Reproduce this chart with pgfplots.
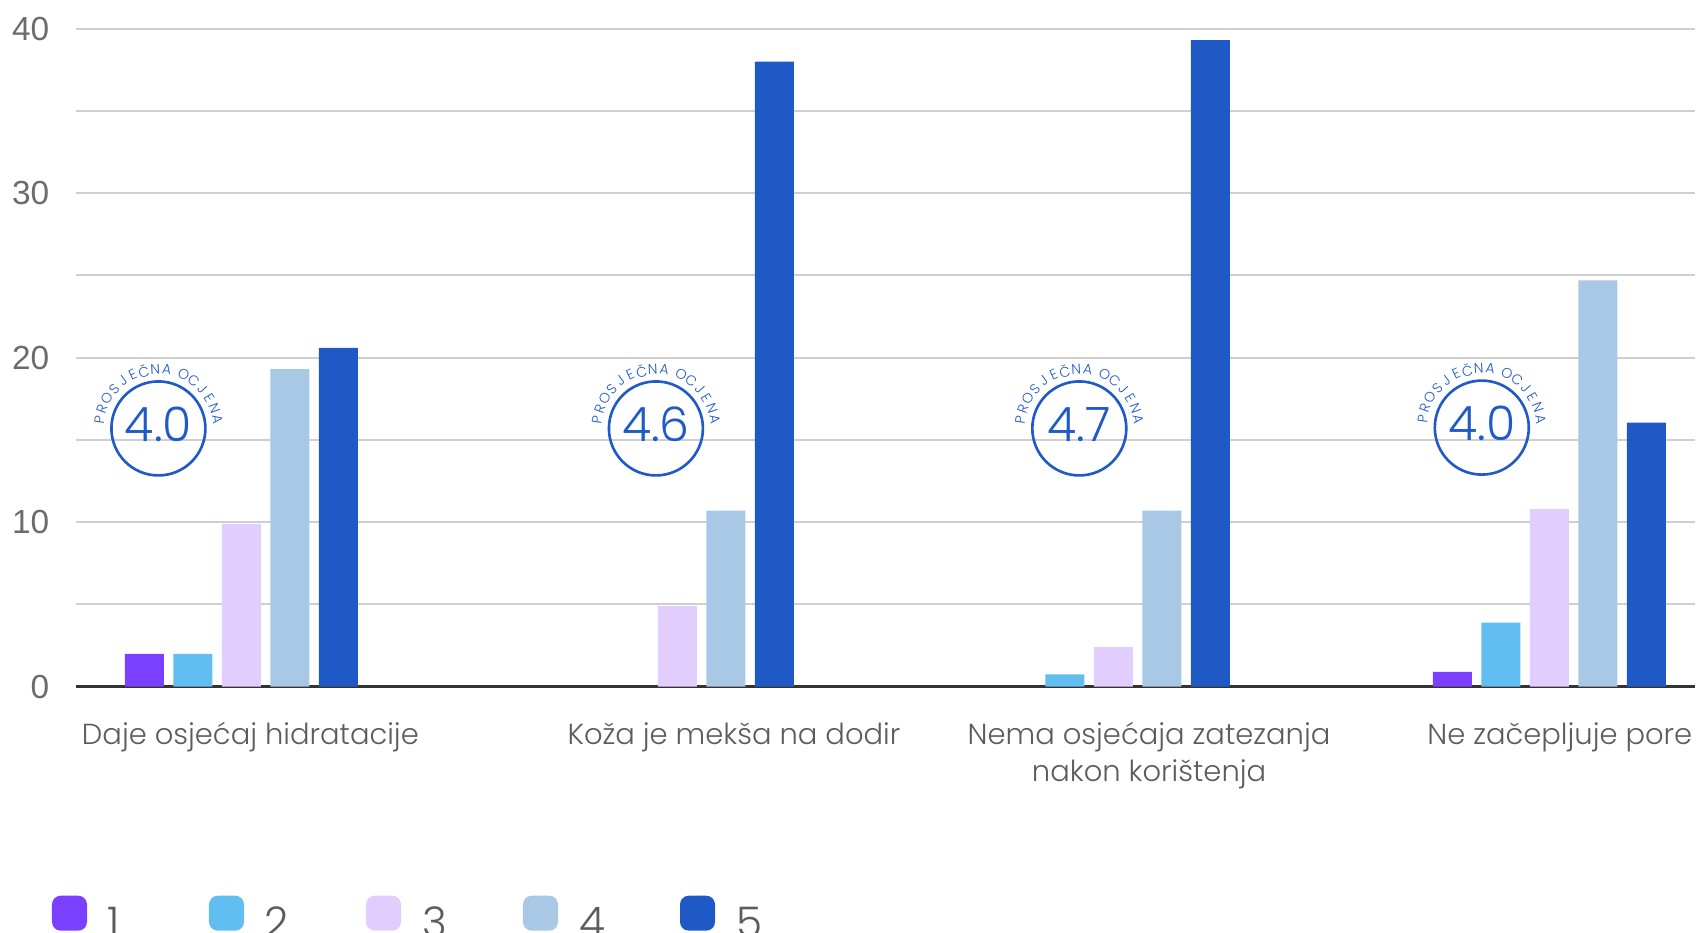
\documentclass[border=0pt]{standalone}
\usepackage{pgfplots}
\pgfplotsset{compat=1.18}
\usepackage{fontspec}
\setmainfont{Poppins Light}
\newfontfamily\tickfont{Liberation Sans}
\definecolor{c1}{HTML}{7B3FFF}
\definecolor{c2}{HTML}{62BEF0}
\definecolor{c3}{HTML}{E1CEFE}
\definecolor{c4}{HTML}{A8C8E6}
\definecolor{c5}{HTML}{1E59C6}
\definecolor{badge}{HTML}{1F5AC8}
\definecolor{lbl}{HTML}{5C5C5C}
\definecolor{gridc}{HTML}{CFCFCF}
\begin{document}
\begin{tikzpicture}
\begin{axis}[
  scale only axis, width=16.19cm, height=6.58cm,
  xmin=-0.379, xmax=3.334, ymin=0, ymax=40,
  ybar=0.095cm, bar width=0.39cm,
  axis line style={draw=none},
  major tick length=0pt,
  ytick={5,10,...,40}, yticklabels={,10,,20,,30,,40},
  extra y ticks={0}, extra y tick labels={0},
  extra y tick style={grid style={draw=black!80, line width=0.8pt}},
  ymajorgrids, grid style={draw=gridc, line width=0.6pt},
  yticklabel style={font=\tickfont\fontsize{9.5}{11}\selectfont, text=lbl!90, inner sep=0pt, xshift=-0.26cm},
  xtick={0.021,1.13,2.082,3.024},
  xticklabels={Daje osjećaj hidratacije, Koža je mekša na dodir, {Nema osjećaja zatezanja\\nakon korištenja}, Ne začepljuje pore},
  xticklabel style={font=\fontsize{8.25}{10.6}\selectfont, text=lbl, align=center, inner sep=0pt, anchor=north, yshift=-0.35cm},
  legend columns=5,
  legend style={draw=none, fill=none, at={(axis cs:-0.379,0)}, anchor=north west, xshift=-0.24cm, yshift=-2.09cm,
    inner sep=0pt, outer sep=0pt,
    nodes={inner sep=0pt, text=lbl, font=\fontsize{12}{14}\selectfont},
    /tikz/every odd column/.append style={column sep=0.21cm},
    /tikz/every even column/.append style={column sep=0.61cm}},
  legend image code/.code={\fill[#1, draw=none, rounded corners=2.5pt] (0cm,-0.06cm) rectangle (0.35cm,0.29cm);},
]
\addplot[fill=c1, draw=none] coordinates {(0,2) (3,0.9)};
\addplot[fill=c2, draw=none] coordinates {(0,2) (2,0.75) (3,3.9)};
\addplot[fill=c3, draw=none] coordinates {(0,9.9) (1,4.9) (2,2.4) (3,10.8)};
\addplot[fill=c4, draw=none] coordinates {(0,19.3) (1,10.7) (2,10.7) (3,24.7)};
\addplot[fill=c5, draw=none] coordinates {(0,20.6) (1,38.0) (2,39.3) (3,16.05)};
\legend{\makebox[0.4cm][l]{1},\makebox[0.4cm][l]{2},\makebox[0.4cm][l]{3},\makebox[0.4cm][l]{4},\makebox[0.4cm][l]{5}}
\coordinate (b1) at (axis cs:-0.190,15.7);
\coordinate (b2) at (axis cs:0.951,15.7);
\coordinate (b3) at (axis cs:1.922,15.7);
\coordinate (b4) at (axis cs:2.845,15.75);
\end{axis}
\foreach \c/\v in {b1/4.0,b2/4.6,b3/4.7,b4/4.0} {
  \draw[badge, line width=0.75pt] (\c) circle (0.47cm);
  \node[text=badge, inner sep=0pt, font=\fontsize{13.5}{15}\selectfont, yshift=0.04cm] at (\c) {\v};
  \foreach \ch/\k in {P/0,R/1,O/2,S/3,J/4,E/5,Č/6,N/7,A/8,O/9.5,C/10.5,J/11.5,E/12.5,N/13.5,A/14.5} {
    \pgfmathsetmacro\ang{172-\k*11.28}
    \node[rotate=\ang-90, inner sep=0pt, text=badge, font=\fontsize{4.0}{5}\selectfont] at ([shift={(\ang:0.595cm)}]\c) {\ch};
  }
}
\pgfresetboundingbox
\useasboundingbox (-0.76cm,-2.463cm) rectangle (16.24cm,6.867cm);
\end{tikzpicture}
\end{document}
